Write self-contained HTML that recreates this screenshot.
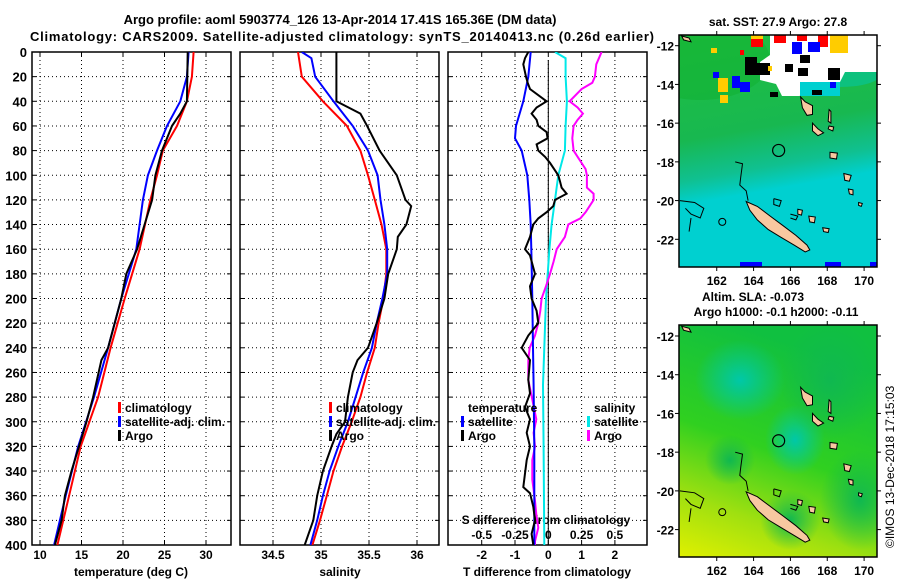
<!DOCTYPE html>
<html><head><meta charset="utf-8"><style>
body{margin:0;background:#fff}
svg{display:block;font-family:"Liberation Sans",sans-serif;font-weight:bold}
</style></head><body>
<svg id="root" width="900" height="580" viewBox="0 0 900 580" xmlns="http://www.w3.org/2000/svg">
<defs>
<clipPath id="c1"><rect x="32" y="52" width="199" height="493"/></clipPath>
<clipPath id="c2"><rect x="240" y="52" width="199" height="493"/></clipPath>
<clipPath id="c3"><rect x="448" y="52" width="199" height="493"/></clipPath>
<clipPath id="cm1"><rect x="679" y="35" width="198" height="232"/></clipPath>
<clipPath id="cm2"><rect x="679" y="325" width="198" height="232"/></clipPath>
<linearGradient id="sstg" x1="0" y1="0" x2="0.15" y2="1">
<stop offset="0" stop-color="#20c040"/><stop offset="0.45" stop-color="#18b850"/><stop offset="0.62" stop-color="#10c090"/><stop offset="0.72" stop-color="#00d0d0"/><stop offset="1" stop-color="#00d0d0"/></linearGradient>
<linearGradient id="slag" x1="0.3" y1="0" x2="0" y2="1">
<stop offset="0" stop-color="#10c040"/><stop offset="0.45" stop-color="#30d020"/><stop offset="0.75" stop-color="#a0e010"/><stop offset="1" stop-color="#e0f000"/></linearGradient>
<radialGradient id="teal1"><stop offset="0" stop-color="#00c8a8"/><stop offset="1" stop-color="#00c8a8" stop-opacity="0"/></radialGradient>
<radialGradient id="grn1"><stop offset="0" stop-color="#10b850"/><stop offset="1" stop-color="#10b850" stop-opacity="0"/></radialGradient>
</defs>
<g id="titles" font-size="13">
<text x="340" y="24" text-anchor="middle">Argo profile: aoml 5903774_126 13-Apr-2014 17.41S 165.36E (DM data)</text>
<text x="342" y="41" text-anchor="middle" textLength="624">Climatology: CARS2009. Satellite-adjusted climatology: synTS_20140413.nc (0.26d earlier)</text>
</g>
<g id="axes"></g>
<g id="series"></g>
<g id="legends" font-size="12"></g>
<g id="maps"></g>
</svg>
<script>
// ---- data ----
const depthTicks = [0,20,40,60,80,100,120,140,160,180,200,220,240,260,280,300,320,340,360,380,400];
const tTicks = [10,15,20,25,30];
const sTicks = [34.5,35,35.5,36];
const sTickLabels = ["34.5","35","35.5","36"];
const dtTicks = [-2,-1,0,1,2];
const dsTicks = [-0.5,-0.25,0,0.25,0.5];
const dsTickLabels = ["-0.5","-0.25","0","0.25","0.5"];

const tClimDepth = [0,20,40,60,80,100,120,160,200,240,280,320,360,400];
const tClim = [28.5,28.3,27.7,26.5,24.8,24.1,23.3,22.0,20.2,18.5,17.0,14.9,13.5,12.1];
const tSatDepth = [0,20,40,60,80,100,120,160,200,240,280,320,360,400];
const tSat = [27.9,27.7,26.9,25.3,24.1,23.0,22.4,21.6,19.8,18.2,16.5,14.6,13.1,11.7];
const tArgoDepth = [0,40,50,60,80,100,120,140,160,180,200,220,240,250,280,300,320,340,360,380,400];
const tArgo = [27.8,27.7,26.9,25.9,24.7,23.9,23.5,22.6,21.7,20.4,19.8,19.0,18.2,17.4,16.4,15.6,14.7,13.8,13.0,12.6,11.8];

const sClimDepth = [0,20,40,60,80,100,120,140,160,180,200,220,240,260,280,300,320,340,360,380,400];
const sClim = [34.76,34.80,35.02,35.27,35.41,35.49,35.56,35.63,35.68,35.68,35.65,35.60,35.56,35.48,35.41,35.32,35.22,35.13,35.06,34.99,34.91];
const sSatDepth = [0,5,20,40,60,80,100,120,140,160,180,200,220,240,260,280,300,320,340,360,380,400];
const sSat = [34.80,34.90,34.94,35.13,35.33,35.49,35.59,35.62,35.66,35.69,35.69,35.64,35.58,35.53,35.44,35.36,35.28,35.18,35.09,35.02,34.96,34.89];
const sArgoDepth = [0,40,50,60,80,100,120,125,140,150,160,180,200,220,240,250,260,280,300,310,320,340,360,380,400];
const sArgo = [35.16,35.16,35.41,35.48,35.61,35.79,35.88,35.94,35.89,35.80,35.79,35.70,35.66,35.58,35.49,35.38,35.33,35.28,35.25,35.16,35.11,35.02,34.96,34.92,34.83];

const dtSatDepth = [0,20,40,60,70,80,100,120,140,160,200,240,270,320,400];
const dtSat = [-0.53,-0.6,-0.75,-0.97,-1.0,-0.8,-0.63,-0.57,-0.53,-0.51,-0.48,-0.46,-0.44,-0.42,-0.42];
const dtArgoDepth = [0,5,10,20,25,30,40,45,50,55,60,65,70,75,80,85,90,100,105,110,115,120,125,130,135,140,150,160,165,180,190,200,210,220,230,240,250,266,277,288,298,309,320,331,342,353,358,369,380,391,400];
const dtArgo = [-0.6,-0.7,-0.75,-0.67,-0.62,-0.55,-0.05,-0.35,-0.5,-0.35,-0.3,-0.05,-0.02,-0.35,-0.3,-0.1,0.05,0.3,0.35,0.4,0.55,0.2,0.15,-0.05,-0.3,-0.45,-0.55,-0.7,-0.55,-0.4,-0.55,-0.5,-0.35,-0.3,-0.6,-0.8,-0.55,-0.6,-0.55,-0.7,-0.55,-0.65,-0.55,-0.65,-0.7,-0.75,-0.55,-0.45,-0.4,-0.5,-0.45];
const dsSatDepth = [0,5,20,40,60,80,100,120,140,160,200,240,270,320,400];
const dsSat = [0.05,0.13,0.13,0.14,0.13,0.125,0.075,0.05,0.025,0.008,-0.017,-0.03,-0.04,-0.035,-0.03];
const dsArgoDepth = [0,10,20,25,30,40,45,50,55,60,70,80,85,95,100,110,115,120,125,130,135,140,150,160,170,180,190,200,210,220,230,240,250,266,282,298,309,320,331,347,364,375,386,397,400];
const dsArgo = [0.4,0.36,0.35,0.33,0.25,0.16,0.22,0.26,0.22,0.19,0.18,0.19,0.22,0.28,0.29,0.29,0.34,0.34,0.31,0.28,0.24,0.15,0.125,0.063,0.04,0.013,-0.017,-0.05,-0.06,-0.075,-0.1,-0.14,-0.15,-0.15,-0.12,-0.09,-0.11,-0.1,-0.12,-0.12,-0.1,-0.09,-0.075,-0.1,-0.1];

// ---- scales ----
const NS='http://www.w3.org/2000/svg';
const yD = d => 52 + d*1.2325;
const xT = v => 40 + (v-10)*8.3;
const xS = v => 273 + (v-34.5)*96;
const xDT = v => 548.3 + v*33.3;
const xDS = v => 548.3 + v*133.2;
function mk(tag, attrs, parent){const e=document.createElementNS(NS,tag);for(const k in attrs)e.setAttribute(k,attrs[k]);parent.appendChild(e);return e;}
const axes=document.getElementById('axes'), series=document.getElementById('series'), legends=document.getElementById('legends'), maps=document.getElementById('maps');

const panels=[{x0:32,clip:'c1',name:'temperature-panel'},{x0:240,clip:'c2',name:'salinity-panel'},{x0:448,clip:'c3',name:'difference-panel'}];
panels.forEach((p,i)=>{
  const g=mk('g',{},axes);
  
  
  depthTicks.forEach(d=>{
    if(d>0&&d<400){const l=mk('line',{x1:p.x0,x2:p.x0+199,y1:yD(d),y2:yD(d),stroke:'#000','stroke-width':1,'stroke-dasharray':'1 3'},g);
    
    }
    mk('line',{x1:p.x0,x2:p.x0+4,y1:yD(d),y2:yD(d),stroke:'#000'},g);
    mk('line',{x1:p.x0+195,x2:p.x0+199,y1:yD(d),y2:yD(d),stroke:'#000'},g);
  });
  const xs = i==0? tTicks.map(xT) : i==1? sTicks.map(xS) : dtTicks.map(xDT);
  xs.forEach(x=>{
    const l=mk('line',{x1:x,x2:x,y1:52,y2:545,stroke:'#000','stroke-dasharray':'1 3'},g);
    
    
    mk('line',{x1:x,x2:x,y1:541,y2:545,stroke:'#000'},g);
    mk('line',{x1:x,x2:x,y1:52,y2:56,stroke:'#000'},g);
  });
  const r=mk('rect',{x:p.x0,y:52,width:199,height:493,fill:'none',stroke:'#000','stroke-width':1.5},g);
  
  
});
mk('line',{x1:xDT(0),x2:xDT(0),y1:60,y2:545,stroke:'#000','stroke-width':1},axes);
depthTicks.forEach(d=>{
  const t=mk('text',{x:27,y:yD(d)+5,'text-anchor':'end','font-size':13},axes);
  t.textContent=d;
  
  
});
tTicks.forEach(v=>{const t=mk('text',{x:xT(v),y:559,'text-anchor':'middle','font-size':12},axes);t.textContent=v;
  
  });
sTicks.forEach((v,i)=>{const t=mk('text',{x:xS(v),y:559,'text-anchor':'middle','font-size':12},axes);t.textContent=sTickLabels[i];
  
  });
dtTicks.forEach(v=>{const t=mk('text',{x:xDT(v),y:559,'text-anchor':'middle','font-size':12},axes);t.textContent=v;
  
  });
dsTicks.forEach((v,i)=>{const t=mk('text',{x:xDS(v),y:539,'text-anchor':'middle','font-size':12},axes);t.textContent=dsTickLabels[i];
  
  });
[[131,'temperature (deg C)','temperature-axis-title'],[340,'salinity','salinity-axis-title'],[547,'T difference from climatology','t-diff-axis-title']].forEach(a=>{
  const t=mk('text',{x:a[0],y:576,'text-anchor':'middle','font-size':12},axes);t.textContent=a[1];
  
  });
{const t=mk('text',{x:546,y:524,'text-anchor':'middle','font-size':12},axes);t.textContent='S difference from climatology';
  
  }

function line(depths, vals, xf, color, clip, name){
  const pts=depths.map((d,i)=>xf(vals[i]).toFixed(1)+','+yD(d).toFixed(1)).join(' ');
  const p=mk('polyline',{points:pts,fill:'none',stroke:color,'stroke-width':2,'clip-path':'url(#'+clip+')'},series);
  
  
}
line(tClimDepth,tClim,xT,'#f00','c1','temperature-climatology-line');
line(tSatDepth,tSat,xT,'#00f','c1','temperature-satellite-line');
line(tArgoDepth,tArgo,xT,'#000','c1','temperature-argo-line');
line(sClimDepth,sClim,xS,'#f00','c2','salinity-climatology-line');
line(sSatDepth,sSat,xS,'#00f','c2','salinity-satellite-line');
line(sArgoDepth,sArgo,xS,'#000','c2','salinity-argo-line');
line(dsSatDepth,dsSat,xDS,'#00e8e8','c3','s-diff-satellite-line');
line(dsArgoDepth,dsArgo,xDS,'#f0f','c3','s-diff-argo-line');
line(dtSatDepth,dtSat,xDT,'#00f','c3','t-diff-satellite-line');
line(dtArgoDepth,dtArgo,xDT,'#000','c3','t-diff-argo-line');

function legend(x, y, color, label, name){
  if(color) mk('rect',{x:x,y:y-5,width:3,height:11,fill:color},legends);
  const t=mk('text',{x:x+7,y:y+5},legends); t.textContent=label;
  
  
}
[[118,'climatology','#f00'],[118,'satellite-adj. clim.','#00f'],[118,'Argo','#000']].forEach((r,i)=>legend(r[0],407+i*14,r[2],r[1],'temperature-legend-entry'));
[[329,'climatology','#f00'],[329,'satellite-adj. clim.','#00f'],[329,'Argo','#000']].forEach((r,i)=>legend(r[0],407+i*14,r[2],r[1],'salinity-legend-entry'));
legend(461,407,null,'temperature','diff-legend-temperature-header');
legend(461,421,'#00f','satellite','diff-legend-t-satellite');
legend(461,435,'#000','Argo','diff-legend-t-argo');
legend(587,407,null,'salinity','diff-legend-salinity-header');
legend(587,421,'#00e8e8','satellite','diff-legend-s-satellite');
legend(587,435,'#f0f','Argo','diff-legend-s-argo');

// ---- maps ----
const mx = lon => 679.9 + (lon-160)*18.42;
const my1 = lat => 45.7 + (-12-lat)*19.36;
const my2 = lat => 336 + (-12-lat)*19.36;
const mapLonTicks=[162,164,166,168,170];
const mapLatTicks=[-12,-14,-16,-18,-20,-22];
const islands=[
 [[163.6,-20.05],[164.2,-20.3],[164.9,-20.8],[165.6,-21.3],[166.3,-21.8],[166.9,-22.3],[167.05,-22.55],[166.8,-22.65],[166.2,-22.3],[165.5,-21.9],[164.8,-21.5],[164.2,-21.0],[163.8,-20.5]],
 [[166.55,-14.65],[166.8,-14.9],[167.2,-15.1],[167.2,-15.55],[166.9,-15.6],[166.65,-15.2]],
 [[167.2,-16.0],[167.5,-16.3],[167.8,-16.5],[167.5,-16.65],[167.2,-16.4]],
 [[168.1,-15.3],[168.2,-15.4],[168.2,-16.0],[168.05,-15.9]],
 [[168.1,-16.15],[168.35,-16.2],[168.3,-16.4],[168.05,-16.3]],
 [[168.15,-17.5],[168.55,-17.55],[168.5,-17.85],[168.15,-17.8]],
 [[168.9,-18.6],[169.3,-18.7],[169.2,-19.0],[168.95,-18.95]],
 [[169.15,-19.4],[169.4,-19.45],[169.4,-19.7],[169.2,-19.65]],
 [[169.7,-20.1],[169.9,-20.15],[169.85,-20.3],[169.7,-20.25]],
 [[166.4,-20.45],[166.65,-20.5],[166.6,-20.75],[166.4,-20.7]],
 [[167.0,-20.8],[167.35,-20.85],[167.3,-21.15],[167.05,-21.1]],
 [[167.75,-21.4],[168.1,-21.45],[168.05,-21.65],[167.8,-21.6]],
 [[160.1,-11.5],[160.5,-11.6],[160.6,-11.8],[160.2,-11.7]]
];
const reefs=[
 [[163.0,-18.0],[163.4,-18.1],[163.3,-18.8],[163.25,-19.2],[163.6,-19.5],[163.7,-20.0]],
 [[160.0,-20.0],[160.8,-20.1],[161.3,-20.4],[161.1,-20.9],[160.6,-20.7],[160.3,-20.4]],
 [[160.6,-20.9],[160.5,-21.6]],
 [[165.1,-19.9],[165.5,-20.0],[165.4,-20.3],[165.1,-20.2],[165.1,-19.9]],
 [[166.0,-20.7],[166.4,-20.8],[166.3,-21.0],[166.0,-20.9]]
];
function drawMap(my, clip, top, base, name){
  const g=mk('g',{'clip-path':'url(#'+clip+')'},maps);
  
  
  mk('rect',{x:679,y:top,width:198,height:232,fill:base},g);
  return g;
}
const g1=drawMap(my1,'cm1',35,'url(#sstg)','sst-map');
[[700,60,'#10b030',70,40],[840,75,'#00c8b0',40,12]].forEach(b=>mk('ellipse',{cx:b[0],cy:b[1],rx:b[3],ry:b[4],fill:b[2],opacity:0.5},g1));
mk('polygon',{points:'770,35 877,35 877,72 845,72 840,82 812,82 806,96 782,96 776,84 760,80 760,62 770,55',fill:'#fff'},g1);
mk('rect',{x:800,y:82,width:40,height:14,fill:'#00d0d0'},g1);
[[745,57,12,18,'#000'],[752,63,18,12,'#000'],[800,55,10,8,'#000'],[798,68,10,8,'#000'],[785,64,8,8,'#000'],[828,68,12,12,'#000'],[812,90,10,5,'#000'],[770,92,8,5,'#000'],
 [751,35,12,12,'#f00'],[774,35,12,8,'#f00'],[797,35,10,6,'#f00'],[818,35,10,12,'#f00'],[740,50,4,5,'#f00'],
 [792,42,10,12,'#00f'],[808,42,12,10,'#00f'],[732,76,8,12,'#00f'],[740,82,10,10,'#00f'],[713,72,6,6,'#00f'],[830,82,6,6,'#00f'],[740,262,22,5,'#00f'],[825,262,16,5,'#00f'],[870,262,7,5,'#00f'],
 [830,35,18,18,'#fc0'],[751,35,12,4,'#fc0'],[718,78,10,14,'#fc0'],[720,95,8,8,'#fc0'],[711,48,6,5,'#fc0'],[768,66,4,5,'#fc0']
].forEach(r=>mk('rect',{x:r[0],y:r[1],width:r[2],height:r[3],fill:r[4]},g1));
const g2=drawMap(my2,'cm2',325,'url(#slag)','sla-map');
[[740,380,'url(#teal1)',45,40],[795,440,'url(#teal1)',30,35],[830,380,'url(#grn1)',50,60],[860,500,'url(#grn1)',40,50],[730,460,'url(#grn1)',25,25],[790,520,'url(#grn1)',30,30]].forEach(b=>mk('ellipse',{cx:b[0],cy:b[1],rx:b[3],ry:b[4],fill:b[2]},g2));

function coast(g,my){
  islands.forEach(isl=>{mk('polygon',{points:isl.map(p=>mx(p[0]).toFixed(1)+','+my(p[1]).toFixed(1)).join(' '),fill:'#f8c8a0',stroke:'#000','stroke-width':1},g);});
  reefs.forEach(r=>{mk('polyline',{points:r.map(p=>mx(p[0]).toFixed(1)+','+my(p[1]).toFixed(1)).join(' '),fill:'none',stroke:'#000','stroke-width':1},g);});
  mk('circle',{cx:mx(162.3),cy:my(-21.1),r:3.5,fill:'none',stroke:'#000'},g);
  const c=mk('circle',{cx:mx(165.36),cy:my(-17.41),r:6,fill:'none',stroke:'#000','stroke-width':1.2},g);
  
  
}
coast(g1,my1); coast(g2,my2);
[[35,my1,'sst-map'],[325,my2,'sla-map']].forEach(m=>{
  const top=m[0], my=m[1];
  mk('rect',{x:679,y:top,width:198,height:232,fill:'none',stroke:'#000','stroke-width':1.5},maps);
  mapLonTicks.forEach(lon=>{
    mk('line',{x1:mx(lon),x2:mx(lon),y1:top-4,y2:top,stroke:'#000'},maps);
    mk('line',{x1:mx(lon),x2:mx(lon),y1:top+232,y2:top+236,stroke:'#000'},maps);
    const t=mk('text',{x:mx(lon),y:top+250,'text-anchor':'middle','font-size':12},maps);t.textContent=lon;
    
    
  });
  mapLatTicks.forEach(lat=>{
    mk('line',{x1:675,x2:679,y1:my(lat),y2:my(lat),stroke:'#000'},maps);
    mk('line',{x1:877,x2:881,y1:my(lat),y2:my(lat),stroke:'#000'},maps);
    const t=mk('text',{x:674,y:my(lat)+5,'text-anchor':'end','font-size':12},maps);t.textContent=lat;
    
    
  });
});
[[778,26,'middle','sat. SST: 27.9 Argo: 27.8','sst-map-title'],[702,301,'start','Altim. SLA: -0.073','sla-map-title'],[776,316,'middle','Argo h1000: -0.1 h2000: -0.11','sla-map-subtitle']].forEach(a=>{
  const t=mk('text',{x:a[0],y:a[1],'text-anchor':a[2],'font-size':12},maps);t.textContent=a[3];
  
  
});
{const t=mk('text',{x:0,y:0,'font-size':12,'font-weight':'normal',transform:'translate(894,548) rotate(-90)'},maps);t.textContent='©IMOS 13-Dec-2018 17:15:03';
 
 }
</script>
</body></html>
